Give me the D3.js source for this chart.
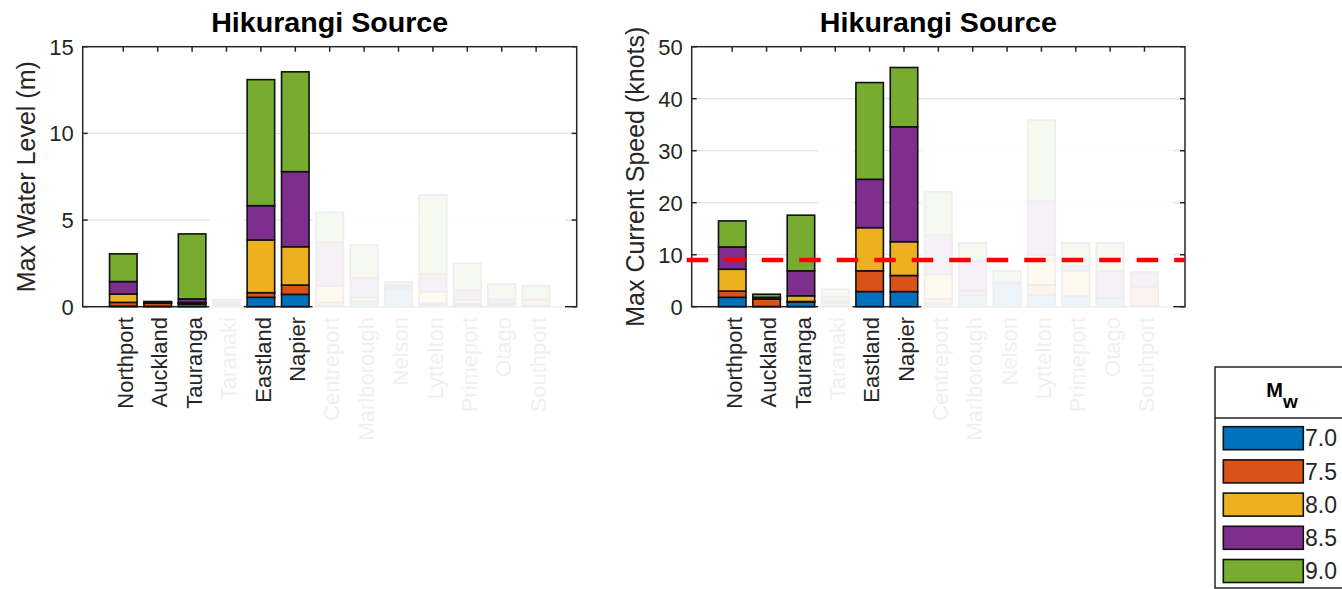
<!DOCTYPE html>
<html><head><meta charset="utf-8">
<script src="https://cdn.jsdelivr.net/npm/d3@7"></script>
<style>
body{margin:0;background:#fff}
svg{display:block}
text{font-family:"Liberation Sans",Arial,Helvetica,sans-serif;fill:#262626}
</style>
</head><body>
<svg id="c" width="1342" height="589"></svg>
<script>
const categories = ["Northport","Auckland","Tauranga","Taranaki","Eastland","Napier","Centreport","Marlborough","Nelson","Lyttelton","Primeport","Otago","Southport"];
const highlighted = ["Northport","Auckland","Tauranga","Eastland","Napier"];
const magnitudes = ["7.0","7.5","8.0","8.5","9.0"];
const colors = ["#0072BD","#D95319","#EDB120","#7E2F8E","#77AC30"];
// cumulative max water level (m) reached by each magnitude
const wl70 = [0.03,0.02,0.15,0.05,0.54,0.71,0.05,0.30,1.05,0.10,0.10,0.10,0.05];
const wl75 = [0.25,0.20,0.20,0.10,0.81,1.25,0.25,0.32,1.10,0.20,0.20,0.15,0.40];
const wl80 = [0.73,0.23,0.25,0.15,3.85,3.46,1.20,0.50,1.20,0.87,0.39,0.20,0.42];
const wl85 = [1.45,0.26,0.45,0.25,5.83,7.79,3.72,1.65,1.25,1.90,0.96,0.43,0.43];
const wl90 = [3.05,0.30,4.20,0.40,13.10,13.55,5.45,3.56,1.42,6.45,2.50,1.31,1.21];
// cumulative max current speed (knots)
const cs70 = [1.8,0.05,0.9,0.3,2.9,2.9,0.6,2.2,4.5,2.25,2.0,1.6,0.1];
const cs75 = [3.0,1.45,1.0,0.7,6.9,6.0,1.5,2.9,4.55,4.2,2.1,1.65,3.85];
const cs80 = [7.2,1.6,2.1,1.0,15.2,12.5,6.2,3.1,4.6,9.9,6.9,1.7,3.9];
const cs85 = [11.5,1.8,6.9,1.9,24.5,34.6,13.8,8.85,4.65,20.3,7.8,6.9,6.6];
const cs90 = [16.5,2.4,17.6,3.35,43.1,46.0,22.1,12.3,6.9,35.9,12.3,12.3,6.65];
const waterTicks = [0,5,10,15];
const currentTicks = [0,10,20,30,40,50];
const currentThreshold = 9;
const titleText = "Hikurangi Source";

const svg = d3.select("#c");
const T = 46.7, B = 306.7;
const pad = 1.18;

function panel(o){
  const g = svg.append("g");
  const n = categories.length;
  const xs = d3.scaleLinear().domain([1-pad, n+pad]).range([o.L, o.R]);
  const ys = d3.scaleLinear().domain([0, o.ticks[o.ticks.length-1]]).range([B, T]);
  const bw = xs(0.8) - xs(0);
  // grid
  g.selectAll(".grid").data(o.ticks.slice(1,-1)).join("line")
    .attr("x1",o.L).attr("x2",o.R).attr("y1",d=>ys(d)).attr("y2",d=>ys(d))
    .attr("stroke","#e2e2e2").attr("stroke-width",1.2);
  // axes box + ticks (drawn beneath data)
  const ax = g.append("g").attr("stroke","#262626").attr("fill","none");
  ax.append("rect").attr("x",o.L).attr("y",T).attr("width",o.R-o.L).attr("height",B-T).attr("stroke-width",1.5);
  o.ticks.forEach(t=>{
    ax.append("line").attr("x1",o.L).attr("x2",o.L+5).attr("y1",ys(t)).attr("y2",ys(t)).attr("stroke-width",1.5);
    ax.append("line").attr("x1",o.R-5).attr("x2",o.R).attr("y1",ys(t)).attr("y2",ys(t)).attr("stroke-width",1.5);
  });
  categories.forEach((c,i)=>{
    ax.append("line").attr("x1",xs(i+1)).attr("x2",xs(i+1)).attr("y1",T).attr("y2",T+5).attr("stroke-width",1.5);
    ax.append("line").attr("x1",xs(i+1)).attr("x2",xs(i+1)).attr("y1",B-5).attr("y2",B).attr("stroke-width",1.5);
  });
  // bars
  categories.forEach((c,i)=>{
    o.series.forEach((s,m)=>{
      const lo = m===0 ? 0 : o.series[m-1][i];
      const hi = s[i];
      g.append("rect").attr("x",xs(i+1)-bw/2).attr("width",bw)
        .attr("y",ys(hi)).attr("height",Math.max(0,ys(lo)-ys(hi)))
        .attr("fill",colors[m]).attr("stroke","#111").attr("stroke-width",1.6);
    });
  });
  // y tick labels
  g.selectAll(".yt").data(o.ticks).join("text")
    .attr("x",o.L-9).attr("y",d=>ys(d)).attr("dy","0.36em")
    .attr("text-anchor","end").attr("font-size",22).text(d=>d);
  // category labels
  categories.forEach((c,i)=>{
    g.append("text").attr("transform",`translate(${xs(i+1)+9.7},317) rotate(-90)`)
      .attr("text-anchor","end").attr("font-size",22).text(c);
  });
  // fade overlays for non-highlighted ports
  const fadedMax = d3.max(categories.map((c,i)=>highlighted.includes(c)?0:o.series[4][i]));
  const oy = ys(fadedMax*1.1);
  const runs = [];
  categories.forEach((c,i)=>{
    if(!highlighted.includes(c)){
      const last = runs[runs.length-1];
      if(last && last[1]===i) last[1]=i+1; else runs.push([i,i+1]);
    }
  });
  runs.forEach(([a,b])=>{
    const x0 = xs(a+0.5), x1 = b===n ? xs(n+0.84) : xs(b+0.5);
    g.append("rect").attr("x",x0).attr("y",oy).attr("width",x1-x0).attr("height",450-oy)
      .attr("fill","#fff").attr("opacity",0.93);
  });
  // threshold
  if(o.threshold!=null){
    g.append("line").attr("x1",xs(1-pad-0.145)).attr("x2",xs(n+pad))
      .attr("y1",ys(o.threshold)).attr("y2",ys(o.threshold))
      .attr("stroke","#ff0000").attr("stroke-width",4.5).attr("stroke-dasharray","21.5,16");
  }
  // title
  g.append("text").attr("x",(o.L+o.R)/2).attr("y",32).attr("text-anchor","middle")
    .attr("font-size",27).attr("font-weight","bold")
    .attr("textLength",237).attr("lengthAdjust","spacingAndGlyphs").style("fill","#000").text(titleText);
  // y label
  g.append("text").attr("transform",`translate(${o.L-48},${(T+B)/2}) rotate(-90)`)
    .attr("text-anchor","middle").attr("font-size",25).text(o.ylabel);
}

panel({L:82.7,R:576.7,ticks:waterTicks,series:[wl70,wl75,wl80,wl85,wl90],ylabel:"Max Water Level (m)",threshold:null});
panel({L:691.7,R:1185,ticks:currentTicks,series:[cs70,cs75,cs80,cs85,cs90],ylabel:"Max Current Speed (knots)",threshold:currentThreshold});

// legend
const lg = svg.append("g");
lg.append("rect").attr("x",1215).attr("y",367).attr("width",140).attr("height",221)
  .attr("fill","#fff").attr("stroke","#262626").attr("stroke-width",1.5);
lg.append("line").attr("x1",1215).attr("x2",1342).attr("y1",418).attr("y2",418)
  .attr("stroke","#262626").attr("stroke-width",1.5);
const hdr = lg.append("text").attr("x",1282).attr("y",397).attr("text-anchor","middle")
  .attr("font-weight","bold").attr("font-size",20).style("fill","#000");
hdr.append("tspan").text("M");
hdr.append("tspan").attr("dy",11).attr("font-size",19).text("w");
magnitudes.forEach((m,k)=>{
  const y = 426.7 + k*33.2;
  lg.append("rect").attr("x",1223.3).attr("y",y).attr("width",80).attr("height",23)
    .attr("fill",colors[k]).attr("stroke","#111").attr("stroke-width",1.6);
  lg.append("text").attr("x",1305).attr("y",y+11.5).attr("dy","0.36em").attr("font-size",23).text(m);
});
</script>
</body></html>
